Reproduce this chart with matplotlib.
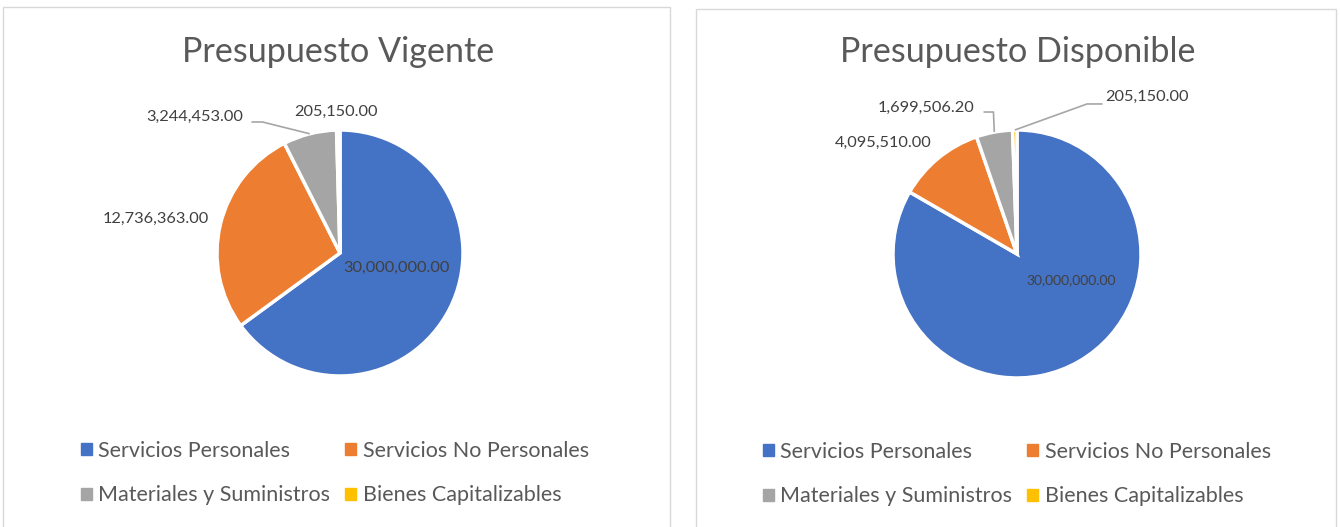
import matplotlib.pyplot as plt
import numpy as np
from matplotlib.patches import Rectangle, Patch

categorias = ['Servicios Personales', 'Servicios No Personales',
              'Materiales y Suministros', 'Bienes Capitalizables']
vigente = [30000000.00, 12736363.00, 3244453.00, 205150.00]
disponible = [30000000.00, 4095510.00, 1699506.20, 205150.00]
colores = ['#4472C4', '#ED7D31', '#A5A5A5', '#FFC000']

plt.rcParams['font.family'] = ['Lato', 'DejaVu Sans']

W, H = 1340, 527
fig = plt.figure(figsize=(W / 100, H / 100), dpi=100)
K = 1.6


def px_axes(cx, cy, r):
    cy = H - cy
    ax = fig.add_axes([(cx - K * r) / W, (cy - K * r) / H, 2 * K * r / W, 2 * K * r / H])
    ax.axis('off')
    return ax


# frames
fig.add_artist(Rectangle((3 / W, -0.01), 667 / W, 1 - 7 / H + 0.01, transform=fig.transFigure,
                         fill=False, edgecolor='#D9D9D9', lw=1))
fig.add_artist(Rectangle((696 / W, -0.01), 640 / W, 1 - 9 / H + 0.01, transform=fig.transFigure,
                         fill=False, edgecolor='#D9D9D9', lw=1))

# label layout: (x, y, size, elbow) in pie units
lay_vig = [(0.46, -0.12, 11.8, None), (-1.50, 0.28, 11.8, None),
           (-1.18, 1.11, 11.8, (-0.72, -0.63, 1.065)), (-0.03, 1.15, 11.8, None)]
lay_dis = [(0.44, -0.21, 10, None), (-1.08, 0.90, 11.8, None),
           (-0.73, 1.18, 11.8, (-0.27, -0.19, 1.145)), (1.05, 1.27, 11.8, (0.69, 0.565, 1.21))]

# title, values, layout, pie centre x/y, radius, title x, legend x
charts = [('Presupuesto Vigente', vigente, lay_vig, 340, 253, 123, 338, 335),
          ('Presupuesto Disponible', disponible, lay_dis, 1017, 254, 124, 1018, 1017)]

for titulo, vals, lay, cx, cy, r, tx, lgx in charts:
    ax = px_axes(cx, cy, r)
    wedges, _ = ax.pie(vals, colors=colores, startangle=90, counterclock=False,
                       wedgeprops=dict(edgecolor='white', linewidth=2.5))
    ax.set_xlim(-K, K)
    ax.set_ylim(-K, K)
    for w, v, (lx, ly, fs, elbow) in zip(wedges, vals, lay):
        ax.text(lx, ly, '{:,.2f}'.format(v), ha='center', va='center',
                fontsize=fs, color='#404040')
        if elbow:
            mid = np.deg2rad((w.theta1 + w.theta2) / 2)
            ex, ey = np.cos(mid), np.sin(mid)
            ax.plot([elbow[0], elbow[1], ex], [elbow[2], elbow[2], ey],
                    color='#A6A6A6', lw=1.2, solid_capstyle='butt')
    fig.text(tx / W, 1 - 52 / H, titulo, ha='center', va='center',
             fontsize=24.6, color='#595959')
    orden = [0, 2, 1, 3]
    fig.legend([Patch(color=colores[i]) for i in orden], [categorias[i] for i in orden],
               ncol=2, loc='center', bbox_to_anchor=(lgx / W, 1 - (cy + 220) / H),
               frameon=False, fontsize=15.5, labelcolor='#595959',
               handlelength=0.5, handleheight=0.5, handletextpad=0.3,
               columnspacing=0.7, labelspacing=1.15)

fig.savefig('out.png', dpi=100)
